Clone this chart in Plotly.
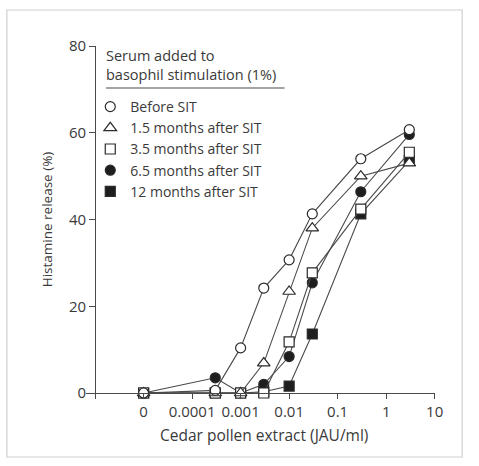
import plotly.graph_objects as go

# Cedar pollen extract concentrations (JAU/ml); 0 is the no-extract control
concentration = [0, 0.0003, 0.001, 0.003, 0.01, 0.03, 0.3, 3]

# Histamine release (%) for each serum sample
before_sit = [0, 0.6, 10.4, 24.2, 30.7, 41.3, 54.0, 60.7]
months_1_5 = [0, 0.0, 0.0, 6.9, 23.4, 38.0, 50.0, 53.0]
months_3_5 = [0, 0.0, 0.0, 0.0, 11.8, 27.7, 42.4, 55.5]
months_6_5 = [0, 3.5, 0.0, 2.0, 8.4, 25.4, 46.4, 59.6]
months_12 = [0, 0.0, 0.0, 0.3, 1.6, 13.6, 41.3, 53.6]

tick_values = [1e-6, 1e-5, 1e-4, 1e-3, 1e-2, 1e-1, 1, 10]
tick_labels = ["", "0", "0.0001", "0.001", "0.01", "0.1", "1", "10"]

ZERO_POS = 1e-5  # where the control (0) is placed on the log axis

FONT = "Open Sans"
INK = "#3a3a3a"
LINE = "#4a4a4a"

W, H = 479, 466
TOP, BOTTOM = 46, 73
PLOT_H = H - TOP - BOTTOM


def px_x(p):
    return p / W


def px_y(p):
    return (H - BOTTOM - p) / PLOT_H


x_plot = [c if c > 0 else ZERO_POS for c in concentration]

series = [
    ("Before SIT", before_sit, "circle-open", "circle"),
    ("1.5 months after SIT", months_1_5, "triangle-up-open", "triangle-up"),
    ("3.5 months after SIT", months_3_5, "square-open", "square"),
    ("6.5 months after SIT", months_6_5, "circle", "circle"),
    ("12 months after SIT", months_12, "square", "square"),
]


def marker_style(sym, base):
    filled = not sym.endswith("open")
    return dict(symbol=base, size=11 if "triangle" in base else 10,
                color="#1e1e1e" if filled else "white",
                line=dict(color="#2a2a2a", width=1.2))


fig = go.Figure()

# data traces, drawn back to front
for name, vals, sym, base in reversed(series):
    fig.add_trace(go.Scatter(
        x=x_plot, y=vals, mode="lines+markers", name=name,
        legendgroup=name, showlegend=False, cliponaxis=False,
        line=dict(color=LINE, width=1.1),
        marker=marker_style(sym, base),
    ))

# legend entries (markers only)
for name, vals, sym, base in series:
    fig.add_trace(go.Scatter(
        x=[None], y=[None], mode="markers", name=name, legendgroup=name,
        marker=marker_style(sym, base),
    ))

fig.update_layout(
    width=W, height=H,
    margin=dict(l=0, r=0, t=TOP, b=BOTTOM),
    paper_bgcolor="white", plot_bgcolor="white",
    font=dict(family=FONT, size=14, color=INK),
    showlegend=True,
    legend=dict(
        x=px_x(92), y=px_y(91), xanchor="left", yanchor="top",
        bgcolor="rgba(0,0,0,0)", borderwidth=0,
        font=dict(family=FONT, size=14, color=INK),
        itemwidth=30, tracegroupgap=0,
    ),
    xaxis=dict(
        type="log", range=[-6.18, 1.0],
        domain=[px_x(88), px_x(443)],
        showline=True, linecolor=LINE, linewidth=1.2,
        ticks="outside", ticklen=5, tickcolor=LINE, tickwidth=1.2,
        tickvals=tick_values, ticktext=tick_labels,
        showgrid=False, zeroline=False,
        tickfont=dict(size=15, color=INK),
    ),
    yaxis=dict(
        range=[0, 80], anchor="free", position=px_x(97),
        showline=True, linecolor=LINE, linewidth=1.2,
        ticks="outside", ticklen=6, tickcolor=LINE, tickwidth=1.2,
        tickvals=[0, 20, 40, 60, 80],
        showgrid=False, zeroline=False,
        tickfont=dict(size=15, color=INK),
        title=dict(text="Histamine release (%)",
                   font=dict(size=13.5, color=INK), standoff=12),
    ),
    annotations=[
        dict(text="Serum added to<br>basophil stimulation (1%)",
             xref="paper", yref="paper", x=px_x(106), y=px_y(65),
             xanchor="left", yanchor="middle", align="left",
             showarrow=False, font=dict(family=FONT, size=14.5, color=INK)),
        # x-axis title
        dict(text="Cedar pollen extract (JAU/ml)",
             xref="paper", yref="paper", x=px_x(269), y=px_y(435),
             xanchor="center", yanchor="middle",
             showarrow=False, font=dict(family=FONT, size=15.5, color=INK)),
    ],
    shapes=[
        # rule under the legend heading
        dict(type="line", xref="paper", yref="paper",
             x0=px_x(108), x1=px_x(290), y0=px_y(88), y1=px_y(88),
             line=dict(color=LINE, width=1.2)),
        # outer frame
        dict(type="rect", xref="paper", yref="paper",
             x0=px_x(7), x1=px_x(471), y0=px_y(10), y1=px_y(457),
             line=dict(color="#cfcfcf", width=1.2)),
    ],
)

fig.write_html("out.html")
